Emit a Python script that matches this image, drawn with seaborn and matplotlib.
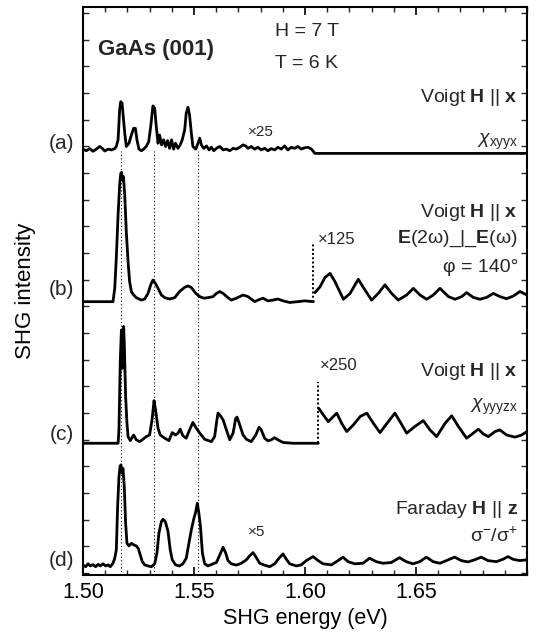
import numpy as np
import pandas as pd
import matplotlib
matplotlib.use("Agg")
import matplotlib.pyplot as plt
import matplotlib.transforms as mtransforms
from matplotlib.ticker import MultipleLocator, FixedLocator
import seaborn as sns

# ---------------- data ----------------
# (a) Voigt, chi_xyyx  (x25)
E_a = [1.5000,1.5015,1.5030,1.5045,1.5060,1.5075,1.5087,1.5098,1.5113,1.5128,
       1.5143,1.5150,1.5158,1.5165,1.5170,1.5176,1.5180,1.5188,1.5195,1.5207,
       1.5218,1.5228,1.5236,1.5243,1.5252,1.5263,1.5273,1.5285,1.5296,1.5305,
       1.5315,1.5323,1.5330,1.5338,1.5345,1.5354,1.5363,1.5372,1.5381,1.5390,
       1.5399,1.5408,1.5417,1.5428,1.5438,1.5447,1.5458,1.5465,1.5473,1.5480,
       1.5488,1.5495,1.5508,1.5518,1.5526,1.5533,1.5544,1.5556,1.5568,1.5578,
       1.5589,1.5601,1.5616,1.5631,1.5646,1.5661,1.5676,1.5691,1.5706,1.5721,
       1.5733,1.5743,1.5758,1.5773,1.5788,1.5803,1.5818,1.5833,1.5848,1.5863,
       1.5878,1.5893,1.5908,1.5923,1.5938,1.5953,1.5968,1.5983,1.5998,1.6014,
       1.6029,1.6045,1.7000]
I_a = [0.03,-0.03,0.05,-0.05,0.03,0.13,0.06,-0.04,0.03,0.0,
       0.05,0.13,0.38,1.50,1.81,1.75,1.38,0.63,0.13,0.25,
       0.56,0.81,0.81,0.38,0.03,-0.03,0.03,0.13,0.31,0.88,
       1.65,1.56,0.88,0.25,0.56,0.19,0.38,0.13,0.35,0.06,
       0.38,0.03,0.25,0.06,0.19,0.38,0.75,1.38,1.60,1.31,
       0.63,0.13,0.03,0.25,0.44,0.19,0.06,0.15,0.0,0.10,
       -0.03,0.06,0.13,0.0,0.03,-0.03,0.06,0.03,0.10,0.19,
       0.15,0.06,0.13,0.03,0.10,0.0,0.06,-0.03,0.05,0.0,
       0.10,0.03,0.15,0.0,0.10,0.06,0.13,0.03,0.08,0.10,
       0.03,-0.13,-0.13]

# (b) Voigt, E(2w) _|_ E(w), phi = 140 deg ; part 1 and x125 part 2
E_b1 = [1.5000,1.5135,1.5143,1.5150,1.5158,1.5165,1.5170,1.5174,1.5177,1.5182,
        1.5188,1.5195,1.5203,1.5210,1.5218,1.5225,1.5240,1.5263,1.5278,1.5293,
        1.5305,1.5315,1.5326,1.5338,1.5353,1.5368,1.5390,1.5413,1.5435,1.5458,
        1.5473,1.5488,1.5508,1.5526,1.5544,1.5563,1.5586,1.5601,1.5616,1.5631,
        1.5653,1.5668,1.5691,1.5721,1.5743,1.5773,1.5788,1.5811,1.5833,1.5856,
        1.5878,1.5901,1.5931,1.5968,1.5998,1.6038]
I_b1 = [0.0,0.0,0.50,1.63,3.25,4.38,4.81,4.85,4.56,4.69,
        4.00,2.63,1.50,0.75,0.38,0.28,0.15,0.06,0.10,0.31,
        0.63,0.81,0.69,0.50,0.25,0.15,0.10,0.15,0.38,0.54,
        0.59,0.53,0.31,0.19,0.13,0.15,0.19,0.31,0.38,0.31,
        0.15,0.06,0.13,0.25,0.19,0.0,0.06,0.13,0.03,0.06,
        0.10,0.03,-0.03,0.0,0.03,0.0]
E_b2 = [1.6045,1.6068,1.6090,1.6113,1.6135,1.6173,1.6203,1.6240,1.6270,1.6300,
        1.6330,1.6360,1.6390,1.6420,1.6458,1.6488,1.6518,1.6548,1.6578,1.6608,
        1.6646,1.6676,1.6706,1.6728,1.6758,1.6788,1.6818,1.6848,1.6878,1.6908,
        1.6938,1.6968,1.7000]
I_b2 = [0.34,0.56,0.91,1.06,0.75,0.09,0.31,0.84,0.44,0.06,
        0.31,0.63,0.31,0.06,0.25,0.50,0.25,0.09,0.25,0.50,
        0.19,0.09,0.19,0.34,0.16,0.09,0.16,0.31,0.19,0.11,
        0.21,0.38,0.25]

# (c) Voigt, chi_yyyzx ; part 1 and x250 part 2
E_c1 = [1.5000,1.5158,1.5162,1.5168,1.5173,1.5177,1.5180,1.5183,1.5186,1.5189,
        1.5192,1.5198,1.5203,1.5213,1.5228,1.5240,1.5255,1.5270,1.5285,1.5300,
        1.5311,1.5320,1.5327,1.5338,1.5348,1.5368,1.5387,1.5402,1.5417,1.5428,
        1.5438,1.5450,1.5465,1.5480,1.5495,1.5511,1.5526,1.5548,1.5578,1.5593,
        1.5601,1.5608,1.5619,1.5631,1.5646,1.5661,1.5676,1.5688,1.5694,1.5706,
        1.5721,1.5736,1.5758,1.5778,1.5793,1.5803,1.5818,1.5833,1.5848,1.5863,
        1.5878,1.5901,1.5946,1.6060]
I_c1 = [0.0,0.0,0.50,3.13,4.25,2.81,3.50,4.38,3.75,2.75,
        1.75,0.75,0.25,0.10,0.31,0.13,0.06,0.15,0.25,0.31,
        0.88,1.60,1.25,0.56,0.31,0.19,0.10,0.40,0.31,0.38,
        0.53,0.28,0.19,0.50,0.78,0.56,0.38,0.15,0.06,0.25,
        0.75,1.13,1.03,0.88,0.50,0.13,0.38,0.94,0.98,0.69,
        0.31,0.15,0.06,0.31,0.60,0.50,0.19,0.09,0.13,0.21,
        0.13,0.03,0.0,0.0]
E_c2 = [1.6062,1.6083,1.6105,1.6125,1.6143,1.6165,1.6188,1.6218,1.6248,1.6278,
        1.6308,1.6338,1.6375,1.6405,1.6428,1.6458,1.6495,1.6533,1.6563,1.6593,
        1.6631,1.6661,1.6691,1.6728,1.6758,1.6781,1.6803,1.6826,1.6856,1.6878,
        1.6908,1.6946,1.6976,1.7000]
I_c2 = [1.31,1.06,0.81,0.98,1.13,0.75,0.44,0.69,1.00,1.13,
        0.75,0.40,0.81,1.13,0.81,0.38,0.63,0.85,0.50,0.25,
        0.75,1.03,0.63,0.19,0.38,0.53,0.35,0.25,0.44,0.50,
        0.31,0.23,0.31,0.44]

# (d) Faraday, sigma-/sigma+  (x5)
E_d = [1.5000,1.5012,1.5023,1.5033,1.5045,1.5057,1.5068,1.5078,1.5090,1.5102,
       1.5113,1.5123,1.5135,1.5143,1.5150,1.5156,1.5162,1.5167,1.5171,1.5176,
       1.5180,1.5186,1.5192,1.5198,1.5207,1.5218,1.5228,1.5240,1.5249,1.5258,
       1.5267,1.5278,1.5293,1.5308,1.5323,1.5333,1.5342,1.5353,1.5360,1.5371,
       1.5383,1.5393,1.5402,1.5417,1.5435,1.5450,1.5465,1.5477,1.5488,1.5498,
       1.5508,1.5515,1.5521,1.5529,1.5538,1.5548,1.5563,1.5586,1.5601,1.5616,
       1.5631,1.5643,1.5653,1.5668,1.5691,1.5713,1.5736,1.5751,1.5766,1.5778,
       1.5796,1.5818,1.5841,1.5863,1.5883,1.5901,1.5916,1.5931,1.5961,1.5983,
       1.6006,1.6036,1.6059,1.6081,1.6119,1.6149,1.6171,1.6194,1.6224,1.6261,
       1.6291,1.6321,1.6351,1.6389,1.6426,1.6456,1.6486,1.6517,1.6547,1.6577,
       1.6607,1.6637,1.6674,1.6704,1.6734,1.6764,1.6794,1.6824,1.6862,1.6892,
       1.6914,1.6937,1.6967,1.7000]
I_d = [0.04,-0.03,0.08,0.0,0.05,-0.03,0.06,0.0,0.08,0.0,
       0.04,-0.03,0.10,0.29,0.60,2.23,3.35,3.73,3.79,3.48,
       3.66,2.98,1.60,0.85,0.75,0.85,0.79,0.75,0.66,0.41,
       0.16,0.04,0.0,-0.03,0.08,0.48,1.23,1.66,1.75,1.66,
       1.29,0.60,0.23,0.04,0.0,0.08,0.29,0.85,1.35,1.73,
       2.04,2.35,2.04,1.48,0.48,0.08,0.0,0.08,0.13,0.41,
       0.70,0.48,0.20,0.08,0.03,0.10,0.23,0.38,0.50,0.35,
       0.10,0.03,-0.03,0.08,0.29,0.45,0.25,0.08,0.0,0.04,
       0.20,0.35,0.20,0.08,0.04,0.20,0.33,0.16,0.08,0.10,
       0.29,0.16,0.10,0.13,0.31,0.16,0.08,0.16,0.33,0.16,
       0.10,0.20,0.33,0.20,0.15,0.23,0.33,0.20,0.16,0.25,
       0.35,0.25,0.20,0.23]

# vertical offsets of the stacked spectra (a, b, c, d)
offsets = {"a": 15.94, "b": 10.25, "c": 4.94, "d": 0.34}
panel_labels = ["(a)", "(b)", "(c)", "(d)"]
panel_label_y = [16.2, 10.69, 5.28, 0.56]

# dotted guide lines (exciton positions)
guide_E = [1.5173, 1.5320, 1.5518]
guide_top = 15.9
# magnification breaks
break_E = {"b": 1.6038, "c": 1.6060}
break_rise = {"b": 2.25, "c": 2.31}

x_ticks = [1.50, 1.55, 1.60, 1.65]
x_tick_labels = ["1.50", "1.55", "1.60", "1.65"]

# ---------------- style ----------------
sns.set_theme(style="ticks")
plt.rcParams["font.family"] = ["Liberation Sans", "DejaVu Sans"]
plt.rcParams["mathtext.fontset"] = "custom"
plt.rcParams["mathtext.rm"] = "Liberation Sans"
plt.rcParams["mathtext.it"] = "Liberation Sans:italic"
plt.rcParams["mathtext.bf"] = "Liberation Sans:bold"
plt.rcParams["axes.linewidth"] = 1.5

fig = plt.figure(figsize=(5.37, 6.32), dpi=100)
ax = fig.add_axes([83 / 537, 57 / 632, 444 / 537, 568 / 632])

# guides
ax.vlines(guide_E, 0, guide_top, colors="black", linestyles=(0, (1, 2.2)),
          lw=0.8, zorder=1)

segments = [(E_a, I_a, "a"), (E_b1, I_b1, "b"), (E_b2, I_b2, "b"),
            (E_c1, I_c1, "c"), (E_c2, I_c2, "c"), (E_d, I_d, "d")]
for E, I, key in segments:
    df = pd.DataFrame({"E": E, "y": np.array(I) + offsets[key]})
    sns.lineplot(data=df, x="E", y="y", ax=ax, color="black", lw=2.0,
                 sort=False, estimator=None, zorder=3)

for key in ["b", "c"]:
    ax.vlines(break_E[key], offsets[key], offsets[key] + break_rise[key],
              colors="black", linestyles=(0, (1, 1.2)), lw=1.4, zorder=2)

ax.set_xlim(1.50, 1.70)
ax.set_ylim(0, 21.3)
ax.xaxis.set_major_locator(FixedLocator(x_ticks))
ax.set_xticklabels(x_tick_labels)
ax.xaxis.set_minor_locator(MultipleLocator(0.01))
ax.set_yticks(np.arange(0.07, 21.3, 1.0))
ax.set_yticklabels([])
ax.tick_params(which="major", axis="x", direction="in", top=True, bottom=True,
               length=6, width=1.2, labelsize=15.5, pad=5, colors="black")
ax.tick_params(which="minor", axis="x", direction="in", top=True, bottom=True,
               length=3.5, width=1.0)
ax.tick_params(axis="y", direction="in", left=True, right=True, length=4,
               width=1.0)
for s in ax.spines.values():
    s.set_color("black")
    s.set_linewidth(1.5)

ax.set_xlabel("SHG energy (eV)", fontsize=15.5, color="black")
ax.set_ylabel("SHG intensity", fontsize=16, color="black")
ax.xaxis.set_label_coords(0.5, -0.058)
ax.yaxis.set_label_coords(-0.105, 0.5)

# texts
ax.text(1.5068, 19.7, "GaAs (001)", fontsize=16, fontweight="bold",
        ha="left", va="center")
ax.text(1.5865, 20.38, "H = 7 T", fontsize=14, ha="left", va="center")
ax.text(1.5865, 19.18, "T = 6 K", fontsize=14, ha="left", va="center")

xr = 1.6959
ax.text(xr, 17.9, r"Voigt $\mathbf{H}$ || $\mathbf{x}$", fontsize=14,
        ha="right", va="center")
ax.text(xr, 16.25, r"$\chi_{\mathrm{xyyx}}$", fontsize=14, ha="right",
        va="center")
ax.text(1.5743, 16.6, "×25", fontsize=11, ha="left", va="center")

ax.text(xr, 13.6, r"Voigt $\mathbf{H}$ || $\mathbf{x}$", fontsize=14,
        ha="right", va="center")
ax.text(xr, 12.6, r"$\mathbf{E}$(2ω)_|_$\mathbf{E}$(ω)", fontsize=14,
        ha="right", va="center")
ax.text(xr, 11.55, "φ = 140°", fontsize=14, ha="right", va="center")
ax.text(1.6059, 12.6, "×125", fontsize=12, ha="left", va="center")

ax.text(xr, 7.65, r"Voigt $\mathbf{H}$ || $\mathbf{x}$", fontsize=14,
        ha="right", va="center")
ax.text(xr, 6.3, r"$\chi_{\mathrm{yyyzx}}$", fontsize=14, ha="right",
        va="center")
ax.text(1.6068, 7.84, "×250", fontsize=12, ha="left", va="center")

ax.text(xr, 2.47, r"Faraday $\mathbf{H}$ || $\mathbf{z}$", fontsize=14,
        ha="right", va="center")
ax.text(xr, 1.45, r"σ$^{-}$/σ$^{+}$", fontsize=14, ha="right", va="center")
ax.text(1.5743, 1.6, "×5", fontsize=11, ha="left", va="center")

trans = mtransforms.blended_transform_factory(ax.transAxes, ax.transData)
for lab, yy in zip(panel_labels, panel_label_y):
    ax.text(-0.02, yy, lab, fontsize=15, ha="right", va="center",
            transform=trans)

fig.savefig("out.png", dpi=100)
